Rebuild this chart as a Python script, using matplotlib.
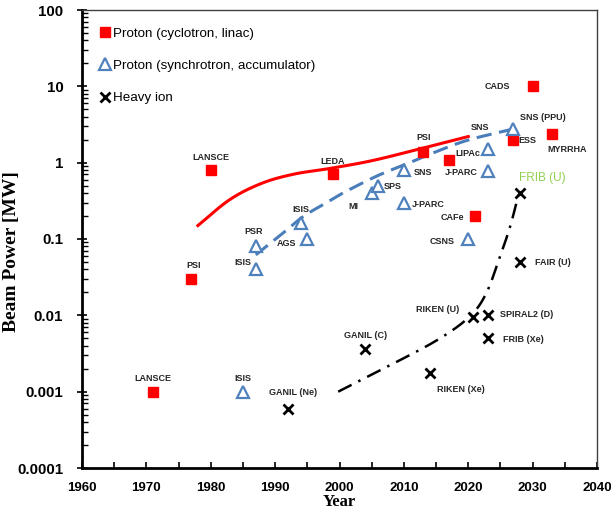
import numpy as np
import matplotlib
matplotlib.use("Agg")
import matplotlib.pyplot as plt
from matplotlib.ticker import LogLocator, NullFormatter, MultipleLocator, FixedLocator

plt.rcParams['font.family'] = ['Liberation Sans', 'DejaVu Sans']

# --- datos ---
# Proton (cyclotron, linac)
lin_year = [1971, 1977, 1980, 1999, 2013, 2017, 2021, 2027, 2030, 2033]
lin_pow = [0.001, 0.03, 0.8, 0.7, 1.4, 1.1, 0.2, 2.0, 10, 2.4]
lin_name = ["LANSCE", "PSI", "LANSCE", "LEDA", "PSI", "LIPAc", "CAFe", "ESS", "CADS", "MYRRHA"]
lin_off = [(0, 13), (2, 13), (0, 13), (0, 13), (0, 14), (19, 6), (-22, -1), (14, -1), (-35, 0), (15, -16)]

# Proton (synchrotron, accumulator)
syn_year = [1985, 1987, 1987, 1994, 1995, 2005, 2006, 2010, 2010, 2020, 2023, 2027]
syn_pow = [0.001, 0.04, 0.08, 0.16, 0.1, 0.4, 0.5, 0.8, 0.3, 0.1, 0.78, 2.8]
syn_name = ["ISIS", "ISIS", "PSR", "ISIS", "AGS", "MI", "SPS", "SNS", "J-PARC", "CSNS", "J-PARC", "SNS (PPU)"]
syn_off = [(0, 13), (-13, 7), (-2, 15), (0, 14), (-21, -4), (-18, -13), (15, -1), (19, -2), (24, -2),
           (-26, -3), (-26, -2), (30, 11)]
syn_extra = [2023]   # triangulo sin etiqueta propia
syn_extra_pow = [1.5]

# Heavy ion
hi_year = [1992, 2004, 2014, 2020.7, 2023, 2023, 2028, 2028]
hi_pow = [0.0006, 0.0036, 0.00175, 0.0096, 0.01, 0.005, 0.05, 0.4]
hi_name = ["GANIL (Ne)", "GANIL (C)", "RIKEN (Xe)", "RIKEN (U)", "SPIRAL2 (D)", "FRIB (Xe)", "FAIR (U)", "FRIB (U)"]
hi_off = [(5, 16), (0, 14), (31, -16), (-35, 7), (39, 1), (36, -1), (33, -1), (23, 15)]

# curvas de tendencia
red_year = [1978, 1983, 1988, 1993, 1998.5, 2005, 2012, 2020]
red_pow = [0.15, 0.33, 0.54, 0.71, 0.84, 1.06, 1.48, 2.2]
blue_year = [1987, 1990.7, 1994.3, 1998, 2001, 2006, 2010, 2015, 2020, 2026.5]
blue_pow = [0.062, 0.11, 0.195, 0.3, 0.42, 0.68, 0.93, 1.39, 1.98, 2.7]
blk_year = [1999.8, 2007.3, 2015.1, 2020.2, 2022.8, 2024.9, 2026.5, 2027.8]
blk_pow = [0.001, 0.0021, 0.0047, 0.0096, 0.0195, 0.058, 0.145, 0.38]

red = "#ff0000"
blue = "#4f81bd"

# curva suave (catmull-rom) en escala log
def suave(xs, ys, n=20):
	p = np.column_stack([xs, np.log10(ys)])
	p = np.vstack([2*p[0]-p[1], p, 2*p[-1]-p[-2]])
	out = []
	t = np.linspace(0, 1, n, endpoint=False)[:, None]
	for i in range(1, len(p)-2):
		p0, p1, p2, p3 = p[i-1], p[i], p[i+1], p[i+2]
		out.append(0.5*((2*p1) + (-p0+p2)*t + (2*p0-5*p1+4*p2-p3)*t**2 + (-p0+3*p1-3*p2+p3)*t**3))
	out.append(p[-2][None, :])
	out = np.vstack(out)
	return out[:, 0], 10**out[:, 1]

fig = plt.figure(figsize=(6.11, 5.18), dpi=100)
ax = fig.add_axes([82/611, 1-468/518, (597-82)/611, (468-10)/518])

xx, yy = suave(red_year, red_pow)
ax.plot(xx, yy, color=red, lw=2.2, zorder=2)
xx, yy = suave(blue_year, blue_pow)
ax.plot(xx, yy, color="#4a7ebb", lw=2.2, dashes=(5, 2.5), zorder=2)
xx, yy = suave(blk_year, blk_pow)
ax.plot(xx, yy, color="black", lw=1.8, dashes=(6, 3, 1, 3), zorder=2)

ax.plot(lin_year, lin_pow, 's', color=red, ms=6.5, mec=red, ls='none', zorder=3,
		label="Proton (cyclotron, linac)")
ax.plot(syn_year + syn_extra, syn_pow + syn_extra_pow, '^', mfc='white', mec=blue, mew=1.6, ms=9,
		ls='none', zorder=3, label="Proton (synchrotron, accumulator)")
ax.plot(hi_year, hi_pow, 'x', color='black', mew=2, ms=6.5, ls='none', zorder=3, label="Heavy ion")

def etiquetas(xs, ys, names, offs, color="#262626"):
	for x, y, n, o in zip(xs, ys, names, offs):
		c = "#92d050" if n == "FRIB (U)" else color
		fs = 8.5 if n == "FRIB (U)" else 6.5
		ax.annotate(n, (x, y), xytext=o, textcoords='offset pixels', ha='center', va='center',
					fontsize=fs, color=c, fontweight='bold' if n != "FRIB (U)" else 'normal')

etiquetas(lin_year, lin_pow, lin_name, lin_off)
etiquetas(syn_year, syn_pow, syn_name, syn_off)
etiquetas(hi_year, hi_pow, hi_name, hi_off)
ax.text(2021.8, 2.93, "SNS", fontsize=6.5, fontweight='bold', color="#262626", ha='center', va='center')

ax.set_yscale('log')
ax.set_xlim(1960, 2040)
ax.set_ylim(0.0001, 100)
ax.xaxis.set_major_locator(MultipleLocator(10))
ax.xaxis.set_minor_locator(MultipleLocator(5))
ax.yaxis.set_major_locator(FixedLocator([0.0001, 0.001, 0.01, 0.1, 1, 10, 100]))
ax.yaxis.set_minor_locator(LogLocator(base=10, subs=np.arange(2, 10)))
ax.yaxis.set_minor_formatter(NullFormatter())
ax.set_yticklabels(["0.0001", "0.001", "0.01", "0.1", "1", "10", "100"])
ax.tick_params(axis='y', which='major', direction='inout', length=7, width=1.2, labelsize=10.8, pad=10)
ax.tick_params(axis='y', which='minor', direction='in', length=4, width=1)
ax.tick_params(axis='x', which='both', direction='in', length=4, width=1.2, labelsize=9.5, pad=10)
for lab in ax.get_xticklabels() + ax.get_yticklabels():
	lab.set_fontweight('bold')

for s in ['left', 'bottom']:
	ax.spines[s].set_linewidth(2)
	ax.spines[s].set_color('black')
for s in ['top', 'right']:
	ax.spines[s].set_linewidth(1)
	ax.spines[s].set_color('#404040')

ax.set_xlabel("Year", family='Liberation Serif', fontweight='bold', fontsize=12, labelpad=0)
ax.set_ylabel("Beam Power [MW]", family='Liberation Serif', fontweight='bold', fontsize=14)
ax.yaxis.set_label_coords(-0.121, 0.472)

leg = ax.legend(loc='upper left', frameon=False, fontsize=9.6, labelspacing=1.5, handlelength=0.6,
				handletextpad=0.25, borderaxespad=0.5, bbox_to_anchor=(0.014, 0.988))
for t in leg.get_texts():
	t.set_color('black')

fig.savefig("out.png", dpi=100)
